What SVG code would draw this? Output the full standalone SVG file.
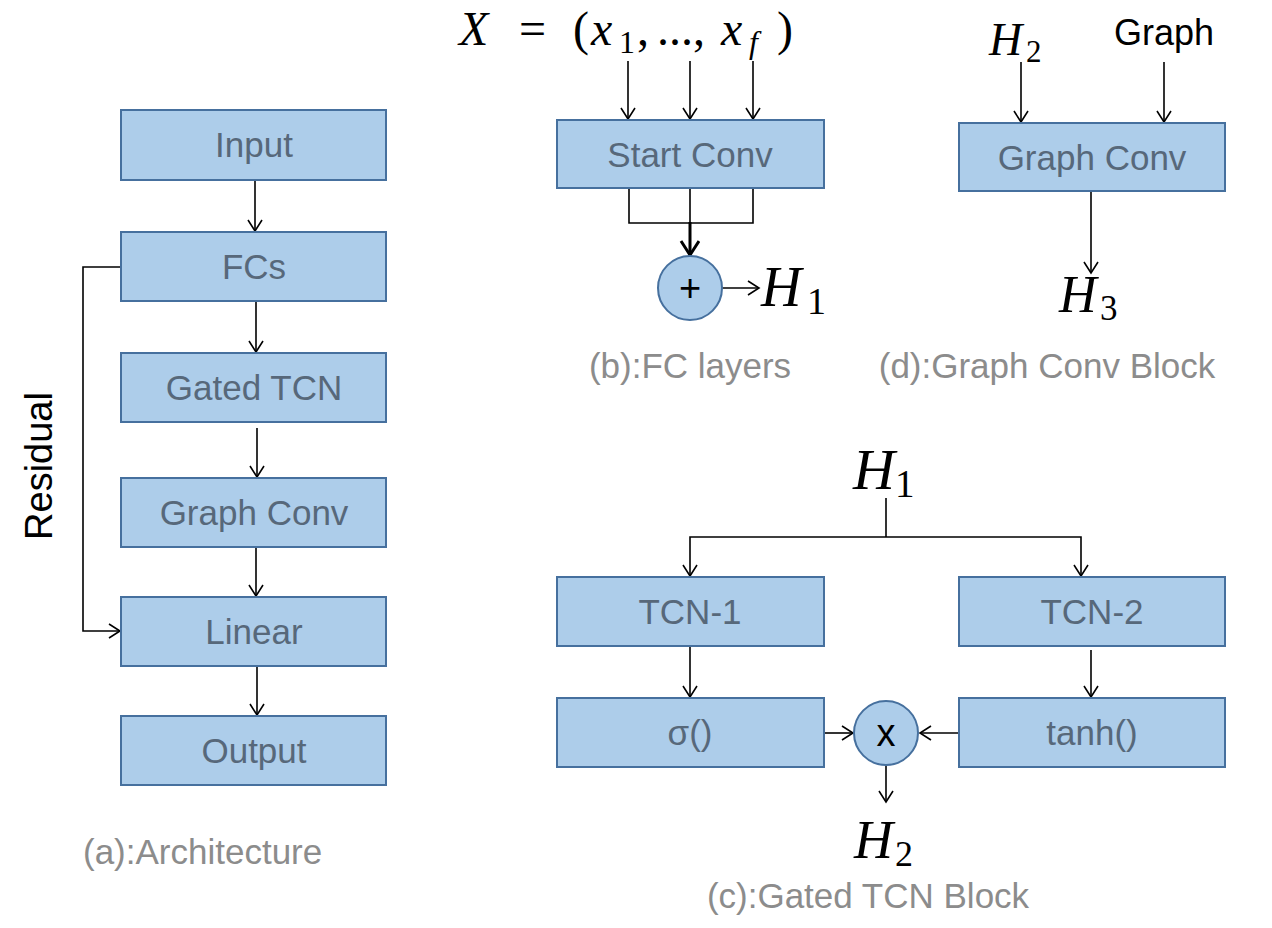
<svg xmlns="http://www.w3.org/2000/svg" width="1272" height="928" viewBox="0 0 1272 928">
<defs>
<marker id="ah" markerUnits="userSpaceOnUse" markerWidth="16" markerHeight="18" refX="12" refY="8" orient="auto" viewBox="0 0 16 18">
<path d="M1,1 L12,8 L1,15" fill="none" stroke="#000" stroke-width="1.6"/>
</marker>
<marker id="ahb" markerUnits="userSpaceOnUse" markerWidth="20" markerHeight="22" refX="15" refY="10" orient="auto" viewBox="0 0 20 22">
<path d="M1,1 L15,10 L1,19" fill="none" stroke="#000" stroke-width="3"/>
</marker>
</defs>
<style>
.box{fill:#adcdea;stroke:#46709e;stroke-width:2}
.bt{font-family:"Liberation Sans",Arial,sans-serif;font-size:35px;fill:#57687a;text-anchor:middle}
.cap{font-family:"Liberation Sans",Arial,sans-serif;font-size:35px;fill:#8c8c8c}
.ln{fill:none;stroke:#000;stroke-width:1.6}
.ar{fill:none;stroke:#000;stroke-width:1.6;marker-end:url(#ah)}
.m{font-family:"Liberation Serif","Times New Roman",serif;fill:#000}
.mi{font-style:italic}
.op{font-family:"Liberation Sans",Arial,sans-serif;fill:#000;text-anchor:middle}
</style>
<rect width="1272" height="928" fill="#fff"/>

<g id="connectors">
<path class="ar" d="M255,180 V231"/>
<path class="ar" d="M256,301 V352"/>
<path class="ar" d="M257,428 V477"/>
<path class="ar" d="M256,547 V596"/>
<path class="ar" d="M257,666 V715"/>
<path class="ar" d="M121,267 H83 V631 H120"/>
<path class="ar" d="M628,61 V119"/>
<path class="ar" d="M690,61 V119"/>
<path class="ar" d="M753,61 V119"/>
<path class="ln" d="M629,189 V223 H753 V189"/>
<path class="ln" d="M690,189 V223"/>
<path fill="none" stroke="#000" stroke-width="3" marker-end="url(#ahb)" d="M690,222 V255"/>
<path class="ar" d="M722,288 H759"/>
<path class="ar" d="M1021,62 V122"/>
<path class="ar" d="M1164,62 V122"/>
<path class="ar" d="M1091,191 V273"/>
<path class="ln" d="M886,498 V537"/>
<path class="ar" d="M886,537 H690 V576"/>
<path class="ar" d="M886,537 H1081 V576"/>
<path class="ar" d="M690,646 V697"/>
<path class="ar" d="M1091,650 V697"/>
<path class="ar" d="M824,733 H853"/>
<path class="ar" d="M959,733 H920"/>
<path class="ar" d="M886,766 V802"/>
</g>

<g id="input"><rect class="box" x="121" y="110" width="265" height="70"/><text class="bt" x="254" y="157">Input</text></g>
<g id="fcs"><rect class="box" x="121" y="232" width="265" height="69"/><text class="bt" x="254" y="279">FCs</text></g>
<g id="gated-tcn"><rect class="box" x="121" y="353" width="265" height="69"/><text class="bt" x="254" y="400">Gated TCN</text></g>
<g id="graph-conv-a"><rect class="box" x="121" y="478" width="265" height="69"/><text class="bt" x="254" y="525">Graph Conv</text></g>
<g id="linear"><rect class="box" x="121" y="597" width="265" height="69"/><text class="bt" x="254" y="644">Linear</text></g>
<g id="output"><rect class="box" x="121" y="716" width="265" height="69"/><text class="bt" x="254" y="763">Output</text></g>
<text x="52" y="466" transform="rotate(-90 52 466)" text-anchor="middle" font-family="Liberation Sans, Arial, sans-serif" font-size="38" fill="#000">Residual</text>
<text class="cap" x="83" y="864">(a):Architecture</text>

<text class="m" font-size="48">
<tspan class="mi" x="459" y="45">X</tspan><tspan x="519" y="45">=</tspan><tspan x="573" y="45">(</tspan><tspan class="mi" x="591" y="45">x</tspan><tspan x="619" y="53" font-size="32">1</tspan><tspan x="637" y="45">,</tspan><tspan x="657" y="45">...,</tspan><tspan class="mi" x="721" y="45">x</tspan><tspan class="mi" x="749" y="53" font-size="32">f</tspan><tspan x="777" y="45">)</tspan>
</text>
<g id="start-conv"><rect class="box" x="557" y="120" width="267" height="68"/><text class="bt" x="690" y="167">Start Conv</text></g>
<g id="plus"><circle cx="690" cy="288" r="32" fill="#adcdea" stroke="#46709e" stroke-width="2"/><text class="op" x="690" y="301" font-size="38">+</text></g>
<text class="m" font-size="56"><tspan class="mi" x="761" y="306">H</tspan><tspan x="807" y="314" font-size="38">1</tspan></text>
<text class="cap" x="690" y="378" text-anchor="middle">(b):FC layers</text>

<text class="m" font-size="46"><tspan class="mi" x="989" y="55">H</tspan><tspan x="1026" y="62" font-size="31">2</tspan></text>
<text x="1164" y="45" text-anchor="middle" font-family="Liberation Sans, Arial, sans-serif" font-size="36" fill="#000">Graph</text>
<g id="graph-conv-d"><rect class="box" x="959" y="123" width="266" height="68"/><text class="bt" x="1092" y="170">Graph Conv</text></g>
<text class="m" font-size="52"><tspan class="mi" x="1059" y="312">H</tspan><tspan x="1100" y="320" font-size="35">3</tspan></text>
<text class="cap" x="1047" y="378" text-anchor="middle">(d):Graph Conv Block</text>

<text class="m" font-size="58"><tspan class="mi" x="853" y="489">H</tspan><tspan x="895" y="497" font-size="39">1</tspan></text>
<g id="tcn1"><rect class="box" x="557" y="577" width="267" height="69"/><text class="bt" x="690" y="624">TCN-1</text></g>
<g id="tcn2"><rect class="box" x="959" y="577" width="266" height="69"/><text class="bt" x="1092" y="624">TCN-2</text></g>
<g id="sigma"><rect class="box" x="557" y="698" width="267" height="69"/><text class="bt" x="690" y="745">σ()</text></g>
<g id="tanh"><rect class="box" x="959" y="698" width="266" height="69"/><text class="bt" x="1092" y="745">tanh()</text></g>
<g id="times"><circle cx="886" cy="733" r="32" fill="#adcdea" stroke="#46709e" stroke-width="2"/><text class="op" x="886" y="746" font-size="38">x</text></g>
<text class="m" font-size="54"><tspan class="mi" x="854" y="858">H</tspan><tspan x="895" y="866" font-size="36">2</tspan></text>
<text class="cap" x="868" y="908" text-anchor="middle">(c):Gated TCN Block</text>
</svg>
